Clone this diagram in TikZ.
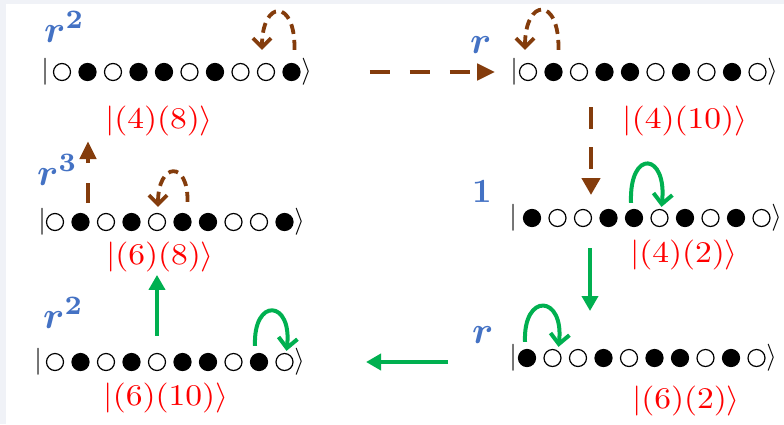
\documentclass[tikz,border=0pt]{standalone}
\usepackage{graphicx}
\usetikzlibrary{arrows.meta,calc}
\definecolor{brn}{HTML}{843C0C}
\definecolor{grn}{HTML}{00B050}
\definecolor{blu}{HTML}{4472C4}
\definecolor{lblred}{HTML}{FF0000}
\definecolor{frame}{HTML}{F0F2F7}

\tikzset{
  dot0/.style={circle, draw=black, fill=white, line width=1.2pt, minimum size=17pt, inner sep=0pt},
  dot1/.style={circle, draw=black, fill=black, line width=1.2pt, minimum size=17pt, inner sep=0pt},
  ketsym/.style={inner sep=0pt},
  statelbl/.style={text=lblred, inner sep=0pt},
  power/.style={text=blu, inner sep=0pt, anchor=base west},
  moveb/.style={brn, line width=4.5pt, dash pattern=on 20pt off 20pt, -{Triangle[length=18pt,width=16pt]}},
  hopb/.style={brn, line width=3.8pt, dash pattern=on 10pt off 6pt, -{Straight Barb[length=9pt,width=18pt]}},
  moveg/.style={grn, line width=4pt, -{Triangle[length=15pt,width=16pt]}},
  hopg/.style={grn, line width=4pt, -{Straight Barb[length=10pt,width=19pt]}},
}

% large glyphs
\newcommand{\bigsym}[1]{\scalebox{2.7}{$#1$}}
\newcommand{\statetext}[1]{\scalebox{3.35}[3.0]{$|(#1)\rangle$}}
\newcommand{\powertext}[1]{\scalebox{3.8}{\boldmath$#1$}}

% one ket row: name, bar x, first dot x, y, occupation pattern
\newcommand{\ketrow}[5]{%
  \node[ketsym] (#1bar) at (#2,#4) {\bigsym{|}};
  \foreach \f [count=\i] in {#5} {
    \node[dot\f] (#1c\i) at ({#3+(\i-1)*25.5},#4) {};
  }
  \node[ketsym] (#1end) at ({#3+9*25.5+15},#4) {\bigsym{\rangle}};
}

\begin{document}
\begin{tikzpicture}[x=1pt, y=-1pt]
  \useasboundingbox (0,0) rectangle (784,424);
  \fill[frame] (0,0) rectangle (784,424);
  \fill[white] (6,4) rectangle (784,424);

  % kets
  \ketrow{p1}{45}{62}{72}{0,1,0,1,1,0,1,0,0,1}
  \ketrow{p2}{514}{528}{72}{0,1,0,1,1,0,1,0,1,0}
  \ketrow{p3}{513}{532}{218}{1,0,0,1,1,0,1,0,1,0}
  \ketrow{p4}{513}{527}{358}{1,0,0,1,0,1,1,0,1,0}
  \ketrow{p5}{38}{55}{362}{0,1,0,1,0,1,1,0,1,0}
  \ketrow{p6}{42}{55}{222}{0,1,0,1,0,1,1,0,0,1}

  % state labels
  \node[statelbl] (s1) at (159,121) {\statetext{4)(8}};
  \node[statelbl] (s2) at (685,121) {\statetext{4)(10}};
  \node[statelbl] (s3) at (684,255) {\statetext{4)(2}};
  \node[statelbl] (s4) at (686,401) {\statetext{6)(2}};
  \node[statelbl] (s5) at (166,398) {\statetext{6)(10}};
  \node[statelbl] (s6) at (160,257) {\statetext{6)(8}};

  % symmetry powers
  \node[power] (r1) at (44,42) {\powertext{r^2}};
  \node[power] (r2) at (470,53) {\powertext{r}};
  \node[power] (r3) at (472,202) {\scalebox{3.4}{\boldmath$1$}};
  \node[power] (r4) at (472,343) {\powertext{r}};
  \node[power] (r5) at (43,328) {\powertext{r^2}};
  \node[power] (r6) at (37,185) {\powertext{r^3}};

  % hops within a row
  \draw[hopb] ([xshift=3pt,yshift=13pt]p1c10.north) .. controls +(1,-52) and +(0,-50) .. ([xshift=-4pt,yshift=13pt]p1c9.north);
  \draw[hopb] ([xshift=5pt,yshift=13pt]p2c2.north) .. controls +(1,-54) and +(0,-52) .. ([xshift=-3pt,yshift=13pt]p2c1.north);
  \draw[hopb] ([xshift=5pt,yshift=11pt]p6c6.north) .. controls +(1,-42) and +(0,-45) .. ([xshift=1pt,yshift=6pt]p6c5.north);
  \draw[hopg] ([xshift=-3pt,yshift=6pt]p3c5.north) .. controls +(-2,-55) and +(6,-54) .. ([xshift=2pt,yshift=2pt]p3c6.north);
  \draw[hopg] ([xshift=-2pt,yshift=7pt]p4c1.north) .. controls +(-2,-50) and +(6,-52) .. ([xshift=6pt,yshift=2pt]p4c2.north);
  \draw[hopg] ([xshift=-4pt,yshift=7pt]p5c9.north) .. controls +(-2,-49) and +(6,-51) .. ([xshift=2pt,yshift=2pt]p5c10.north);

  % moves between rows
  \draw[moveb] (p1end) -- (p2bar) [shorten <=58pt, shorten >=15pt];
  \coordinate (v1a) at (591,107);
  \coordinate (v1b) at (591,195);
  \draw[moveb, dash pattern=on 22pt off 18pt, -{Triangle[length=17pt,width=18pt]}] (v1a) -- (v1b);
  \coordinate (v2a) at (590,248);
  \coordinate (v2b) at (590,311);
  \draw[moveg] (v2a) -- (v2b);
  \coordinate (v3a) at (448,362);
  \coordinate (v3b) at (366,362);
  \draw[moveg] (v3a) -- (v3b);
  \draw[moveg] ([yshift=17pt]p5c5.north) -- ++(0,-61);
  \coordinate (v4a) at (88,203);
  \coordinate (v4b) at (88,141);
  \draw[moveb] (v4a) -- (v4b);
\end{tikzpicture}
\end{document}
